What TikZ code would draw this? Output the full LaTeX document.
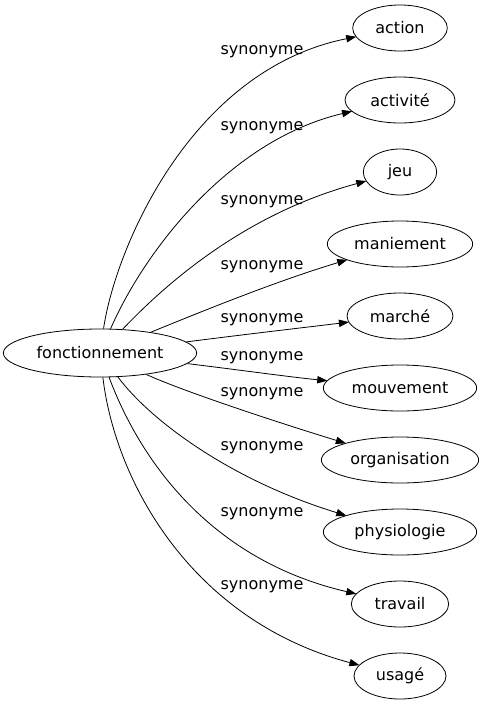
\documentclass[tikz,border=0pt]{standalone}
\usepackage{fontspec}
\setmainfont{DejaVu Sans}
\usetikzlibrary{positioning,shapes.geometric,arrows.meta}

\begin{document}
\begin{tikzpicture}[x=0.75pt,y=-0.75pt,>={Triangle[length=7.5pt,width=5.5pt]},line width=0.6pt,
main node/.style={ellipse,draw,font=\fontsize{12}{14}\selectfont,inner sep=0pt,minimum width=145pt,minimum height=36pt},
word node/.style={ellipse,draw,font=\fontsize{12}{14}\selectfont,inner sep=0pt,outer sep=0pt,minimum height=34.5pt},
rel node/.style={font=\fontsize{12}{14}\selectfont,inner sep=0pt}]
\useasboundingbox (0,0) rectangle (483,707);
% nodes
  \node[main node] (0) at (100,353) {fonctionnement};
  \node[word node,minimum width=71pt] (1) at (400,28) {action};
  \node[word node,minimum width=82.5pt] (2) [below = 19.5pt of 1] {activité};
  \node[word node,minimum width=55pt] (3) [below = 19.5pt of 2] {jeu};
  \node[word node,minimum width=109pt] (4) [below = 19.5pt of 3] {maniement};
  \node[word node,minimum width=79.5pt] (5) [below = 19.5pt of 4] {marché};
  \node[word node,minimum width=115pt] (6) [below = 19.5pt of 5] {mouvement};
  \node[word node,minimum width=118pt] (7) [below = 19.5pt of 6] {organisation};
  \node[word node,minimum width=115pt] (8) [below = 19.5pt of 7] {physiologie};
  \node[word node,minimum width=73pt] (9) [below = 19.5pt of 8] {travail};
  \node[word node,minimum width=69pt] (10) [below = 19.5pt of 9] {usagé};
  % labels
  \node[rel node] (l1) at (262,52) {synonyme};
  \node[rel node] (l2) at (262,128) {synonyme};
  \node[rel node] (l3) at (262,202) {synonyme};
  \node[rel node] (l4) at (262,267) {synonyme};
  \node[rel node] (l5) at (262,320) {synonyme};
  \node[rel node] (l6) at (262,358) {synonyme};
  \node[rel node] (l7) at (262,394) {synonyme};
  \node[rel node] (l8) at (262,448) {synonyme};
  \node[rel node] (l9) at (262,514) {synonyme};
  \node[rel node] (l10) at (262,587) {synonyme};
  %edges
  \draw[->] (0) .. controls (115,250) and (190,70) .. (1);
  \draw[->] (0) .. controls (145,250) and (230,140) .. (2);
  \draw[->] (0) .. controls (160,290) and (240,215) .. (3);
  \draw[->] (0) .. controls (210,308) and (280,280) .. (4);
  \draw[->] (0) .. controls (240,335) and (300,328) .. (5);
  \draw[->] (0) .. controls (240,370) and (290,377) .. (6);
  \draw[->] (0) .. controls (180,390) and (270,420) .. (7);
  \draw[->] (0) .. controls (150,420) and (230,480) .. (8);
  \draw[->] (0) .. controls (140,460) and (210,560) .. (9);
  \draw[->] (0) .. controls (115,480) and (190,620) .. (10);
\end{tikzpicture}
\end{document}
